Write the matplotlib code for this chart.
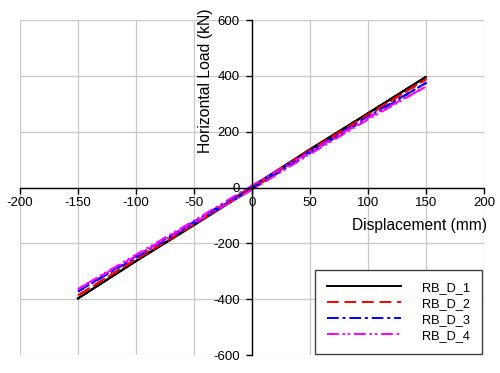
import matplotlib
matplotlib.use("Agg")
import matplotlib.pyplot as plt

plt.rcParams['font.family'] = ['Liberation Sans', 'DejaVu Sans']
plt.rcParams['axes.unicode_minus'] = False

disp = [-150, -100, -50, 0, 50, 100, 150, 100, 50, 0, -50, -100, -150]
rb_d_1 = [-397, -264, -135, -4, 134, 265, 397, 267, 138, 4, -132, -262, -397]
rb_d_2 = [-386, -258, -132, -5, 130, 258, 388, 262, 135, 5, -128, -255, -386]
rb_d_3 = [-372, -250, -128, -6, 124, 250, 375, 255, 130, 6, -122, -246, -372]
rb_d_4 = [-363, -245, -126, -8, 120, 244, 362, 250, 128, 8, -118, -240, -363]
labels = ["RB_D_1", "RB_D_2", "RB_D_3", "RB_D_4"]
x_ticks = [-200, -150, -100, -50, 0, 50, 100, 150, 200]
y_ticks = [-600, -400, -200, 0, 200, 400, 600]

fig = plt.figure(figsize=(5.0, 3.73), dpi=100)
ax = fig.add_axes([0.04, 0.048, 0.928, 0.898])

styles = [
    dict(color='black', linestyle='-'),
    dict(color='red', linestyle=(0, (6, 3))),
    dict(color='blue', linestyle=(0, (6, 2, 1.5, 2))),
    dict(color='magenta', linestyle=(0, (6, 2, 1.2, 1.5, 1.2, 2))),
]
for ys, lab, st in zip([rb_d_1, rb_d_2, rb_d_3, rb_d_4], labels, styles):
    ax.plot(disp, ys, lw=1.4, label=lab, **st)

ax.set_xlim(-200, 200)
ax.set_ylim(-600, 600)
ax.set_xticks(x_ticks)
ax.set_yticks(y_ticks)
ax.grid(True, color='#c8c8c8', lw=0.9)
ax.set_axisbelow(True)

for s in ['top', 'right']:
    ax.spines[s].set_visible(False)
ax.spines['left'].set_position(('data', 0))
ax.spines['bottom'].set_position(('data', 0))
ax.spines['left'].set_linewidth(1.0)
ax.spines['bottom'].set_linewidth(1.0)
ax.tick_params(axis='both', direction='out', length=4, width=1, labelsize=9.5)
ax.tick_params(axis='y', pad=5)
ax.tick_params(axis='x', pad=3)

ax.text(0.399, 0.82, "Horizontal Load (kN)", transform=ax.transAxes, rotation=90,
        ha='center', va='center', fontsize=11.3)
ax.text(0.862, 0.388, "Displacement (mm)", transform=ax.transAxes,
        ha='center', va='center', fontsize=11.2)

leg = ax.legend(loc='lower right', bbox_to_anchor=(0.995, 0.003), fontsize=9.2,
                handlelength=5.8, fancybox=False, framealpha=1, edgecolor='#404040',
                borderpad=0.95, labelspacing=0.32, handletextpad=1.6,
                borderaxespad=0.0)
leg.get_frame().set_linewidth(1.0)

fig.savefig("out.png", dpi=100, facecolor='white')
